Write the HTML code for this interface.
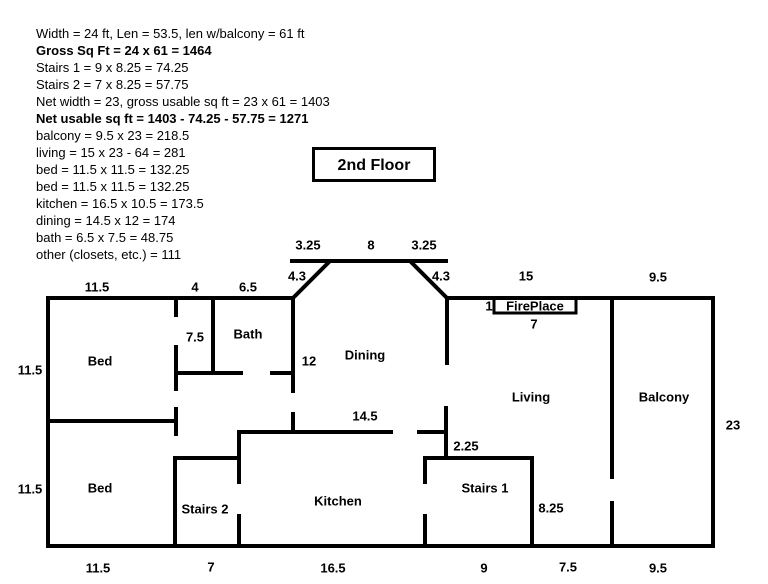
<!DOCTYPE html>
<html><head><style>
body{margin:0;background:#fff;}
svg{display:block;}
text{font-family:"Liberation Sans",Arial,sans-serif;font-size:13px;fill:#000;}
.b{font-weight:bold;}
.l text{font-weight:bold;text-anchor:middle;dominant-baseline:central;}
</style></head><body>
<svg width="768" height="584" viewBox="0 0 768 584" xmlns="http://www.w3.org/2000/svg">
<g>
<text x="36" y="38">Width = 24 ft, Len = 53.5, len w/balcony = 61 ft</text>
<text x="36" y="55" class="b">Gross Sq Ft = 24 x 61 = 1464</text>
<text x="36" y="72">Stairs 1 = 9 x 8.25 = 74.25</text>
<text x="36" y="89">Stairs 2 = 7 x 8.25 = 57.75</text>
<text x="36" y="106">Net width = 23, gross usable sq ft = 23 x 61 = 1403</text>
<text x="36" y="123" class="b">Net usable sq ft = 1403 - 74.25 - 57.75 = 1271</text>
<text x="36" y="140">balcony = 9.5 x 23 = 218.5</text>
<text x="36" y="157">living = 15 x 23 - 64 = 281</text>
<text x="36" y="174">bed = 11.5 x 11.5 = 132.25</text>
<text x="36" y="191">bed = 11.5 x 11.5 = 132.25</text>
<text x="36" y="208">kitchen = 16.5 x 10.5 = 173.5</text>
<text x="36" y="225">dining = 14.5 x 12 = 174</text>
<text x="36" y="242">bath = 6.5 x 7.5 = 48.75</text>
<text x="36" y="259">other (closets, etc.) = 111</text>
</g>
<rect x="313.5" y="148.5" width="121" height="32" fill="none" stroke="#000" stroke-width="3"/>
<text x="374" y="170" class="b" style="font-size:16px" text-anchor="middle">2nd Floor</text>
<g stroke="#000" stroke-width="4" fill="none" stroke-linecap="square">
<path d="M48 298H293L330 261H410L447 298H713V546H48Z"/>
<line x1="292" y1="261" x2="330" y2="261"/>
<line x1="410" y1="261" x2="446" y2="261"/>
<line x1="176" y1="298" x2="176" y2="315"/>
<line x1="176" y1="347" x2="176" y2="389"/>
<line x1="176" y1="409" x2="176" y2="434"/>
<line x1="213" y1="298" x2="213" y2="373"/>
<line x1="176" y1="373" x2="241" y2="373"/>
<line x1="272" y1="373" x2="293" y2="373"/>
<line x1="293" y1="298" x2="293" y2="391"/>
<line x1="293" y1="414" x2="293" y2="432"/>
<line x1="48" y1="421" x2="176" y2="421"/>
<line x1="239" y1="432" x2="391" y2="432"/>
<line x1="419" y1="432" x2="446" y2="432"/>
<line x1="447" y1="298" x2="447" y2="363"/>
<line x1="446" y1="408" x2="446" y2="458"/>
<line x1="239" y1="432" x2="239" y2="482"/>
<line x1="239" y1="516" x2="239" y2="546"/>
<line x1="175" y1="458" x2="239" y2="458"/>
<line x1="175" y1="458" x2="175" y2="546"/>
<line x1="425" y1="458" x2="532" y2="458"/>
<line x1="425" y1="458" x2="425" y2="482"/>
<line x1="425" y1="516" x2="425" y2="546"/>
<line x1="532" y1="458" x2="532" y2="546"/>
<line x1="612" y1="298" x2="612" y2="477"/>
<line x1="612" y1="503" x2="612" y2="546"/>
<path d="M494 298V313H576V298" stroke-width="3"/>
</g>
<g class="l">
<text x="97" y="287">11.5</text><text x="195" y="287">4</text><text x="248" y="287">6.5</text>
<text x="308" y="245">3.25</text><text x="371" y="245">8</text><text x="424" y="245">3.25</text>
<text x="297" y="276">4.3</text><text x="441" y="276">4.3</text>
<text x="526" y="276">15</text><text x="658" y="277">9.5</text>
<text x="489" y="306">1</text><text x="535" y="306">FirePlace</text><text x="534" y="324">7</text>
<text x="195" y="337">7.5</text><text x="248" y="334">Bath</text><text x="309" y="361">12</text>
<text x="100" y="361">Bed</text><text x="365" y="355">Dining</text>
<text x="531" y="397">Living</text><text x="664" y="397">Balcony</text><text x="733" y="425">23</text>
<text x="30" y="370">11.5</text><text x="365" y="416">14.5</text><text x="466" y="446">2.25</text>
<text x="30" y="489">11.5</text><text x="100" y="488">Bed</text><text x="205" y="509">Stairs 2</text>
<text x="338" y="501">Kitchen</text><text x="485" y="488">Stairs 1</text><text x="551" y="508">8.25</text>
<text x="98" y="568">11.5</text><text x="211" y="567">7</text><text x="333" y="568">16.5</text>
<text x="484" y="568">9</text><text x="568" y="567">7.5</text><text x="658" y="568">9.5</text>
</g>
</svg>
</body></html>
